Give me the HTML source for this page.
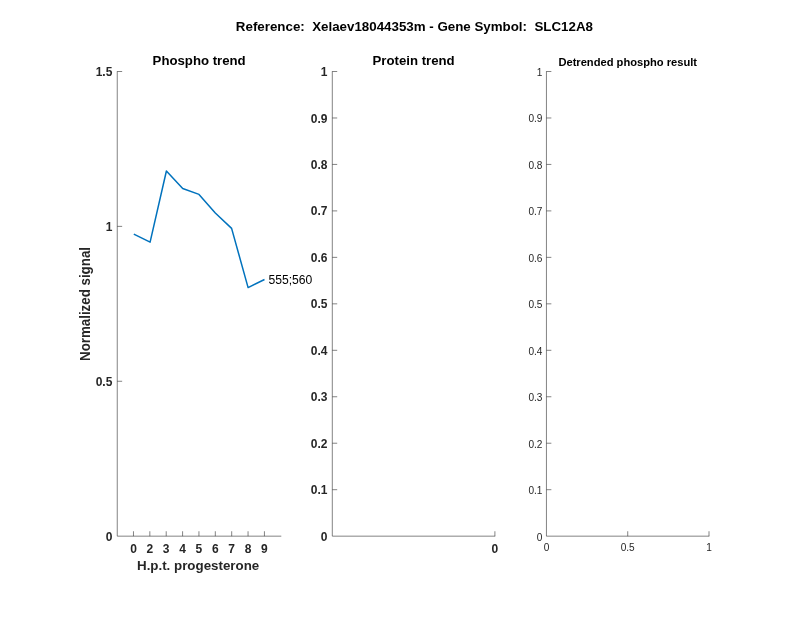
<!DOCTYPE html>
<html><head><meta charset="utf-8"><title>Figure</title>
<style>
html,body{margin:0;padding:0;background:#fff;}
svg{display:block;font-family:"Liberation Sans",sans-serif;}
.ax{stroke:#262626;stroke-width:0.57;fill:none;}
.b{font-weight:bold;}
.tk{fill:#262626;}
</style></head><body>
<svg width="800" height="618" viewBox="0 0 800 618">
<rect width="800" height="618" fill="#fff"/>

<text x="414.4" y="30.5" text-anchor="middle" class="b" font-size="13.33" fill="#000" xml:space="preserve">Reference:  Xelaev18044353m - Gene Symbol:  SLC12A8</text>
<path class="ax" d="M117.25 71.22V536.16H281.29M117.25 381.27h4.90M117.25 226.39h4.90M117.25 71.50h4.90M133.47 536.16v-4.90M149.84 536.16v-4.90M166.21 536.16v-4.90M182.58 536.16v-4.90M198.95 536.16v-4.90M215.32 536.16v-4.90M231.69 536.16v-4.90M248.06 536.16v-4.90M264.43 536.16v-4.90"/>
<g class="tk b" font-size="12">
<text x="112.35" y="540.71" text-anchor="end">0</text>
<text x="112.35" y="385.82" text-anchor="end">0.5</text>
<text x="112.35" y="230.93" text-anchor="end">1</text>
<text x="112.35" y="76.05" text-anchor="end">1.5</text>
<text x="133.47" y="553.15" text-anchor="middle">0</text>
<text x="149.84" y="553.15" text-anchor="middle">2</text>
<text x="166.21" y="553.15" text-anchor="middle">3</text>
<text x="182.58" y="553.15" text-anchor="middle">4</text>
<text x="198.95" y="553.15" text-anchor="middle">5</text>
<text x="215.32" y="553.15" text-anchor="middle">6</text>
<text x="231.69" y="553.15" text-anchor="middle">7</text>
<text x="248.06" y="553.15" text-anchor="middle">8</text>
<text x="264.43" y="553.15" text-anchor="middle">9</text>
</g>
<text x="199.12" y="65.00" text-anchor="middle" class="b" font-size="13.2" fill="#000">Phospho trend</text>
<path class="ax" d="M332.30 71.22V536.16H495.19M332.30 489.69h4.90M332.30 443.23h4.90M332.30 396.76h4.90M332.30 350.30h4.90M332.30 303.83h4.90M332.30 257.36h4.90M332.30 210.90h4.90M332.30 164.43h4.90M332.30 117.97h4.90M332.30 71.50h4.90M494.90 536.16v-4.90"/>
<g class="tk b" font-size="12">
<text x="327.40" y="540.71" text-anchor="end">0</text>
<text x="327.40" y="494.24" text-anchor="end">0.1</text>
<text x="327.40" y="447.77" text-anchor="end">0.2</text>
<text x="327.40" y="401.31" text-anchor="end">0.3</text>
<text x="327.40" y="354.84" text-anchor="end">0.4</text>
<text x="327.40" y="308.38" text-anchor="end">0.5</text>
<text x="327.40" y="261.91" text-anchor="end">0.6</text>
<text x="327.40" y="215.44" text-anchor="end">0.7</text>
<text x="327.40" y="168.98" text-anchor="end">0.8</text>
<text x="327.40" y="122.51" text-anchor="end">0.9</text>
<text x="327.40" y="76.05" text-anchor="end">1</text>
<text x="494.90" y="553.15" text-anchor="middle">0</text>
</g>
<text x="413.60" y="65.00" text-anchor="middle" class="b" font-size="13.2" fill="#000">Protein trend</text>
<path class="ax" d="M546.45 71.22V536.16H709.28M546.45 489.69h4.90M546.45 443.23h4.90M546.45 396.76h4.90M546.45 350.30h4.90M546.45 303.83h4.90M546.45 257.36h4.90M546.45 210.90h4.90M546.45 164.43h4.90M546.45 117.97h4.90M546.45 71.50h4.90M627.73 536.16v-4.90M709.00 536.16v-4.90"/>
<g class="tk" font-size="10.1">
<text x="542.45" y="540.53" text-anchor="end">0</text>
<text x="542.45" y="494.06" text-anchor="end">0.1</text>
<text x="542.45" y="447.59" text-anchor="end">0.2</text>
<text x="542.45" y="401.13" text-anchor="end">0.3</text>
<text x="542.45" y="354.66" text-anchor="end">0.4</text>
<text x="542.45" y="308.20" text-anchor="end">0.5</text>
<text x="542.45" y="261.73" text-anchor="end">0.6</text>
<text x="542.45" y="215.26" text-anchor="end">0.7</text>
<text x="542.45" y="168.80" text-anchor="end">0.8</text>
<text x="542.45" y="122.33" text-anchor="end">0.9</text>
<text x="542.45" y="75.87" text-anchor="end">1</text>
<text x="546.45" y="550.79" text-anchor="middle">0</text>
<text x="627.73" y="550.79" text-anchor="middle">0.5</text>
<text x="709.00" y="550.79" text-anchor="middle">1</text>
</g>
<text x="627.73" y="65.50" text-anchor="middle" class="b" font-size="11.15" fill="#000">Detrended phospho result</text>
<text x="198.1" y="569.7" text-anchor="middle" class="tk b" font-size="13.33">H.p.t. progesterone</text>
<text transform="translate(89.8,304) rotate(-90) scale(1,1.08)" text-anchor="middle" class="tk b" font-size="13.33">Normalized signal</text>
<polyline fill="none" stroke="#0072BD" stroke-width="1.5" stroke-linejoin="round" points="133.8,234.1 150.1,242.2 166.4,171.0 182.7,188.5 199.0,194.4 215.3,213.0 231.6,228.4 248.1,287.6 264.5,279.5"/>
<text x="268.4" y="283.8" font-size="12.15" fill="#000">555;560</text>
</svg></body></html>
